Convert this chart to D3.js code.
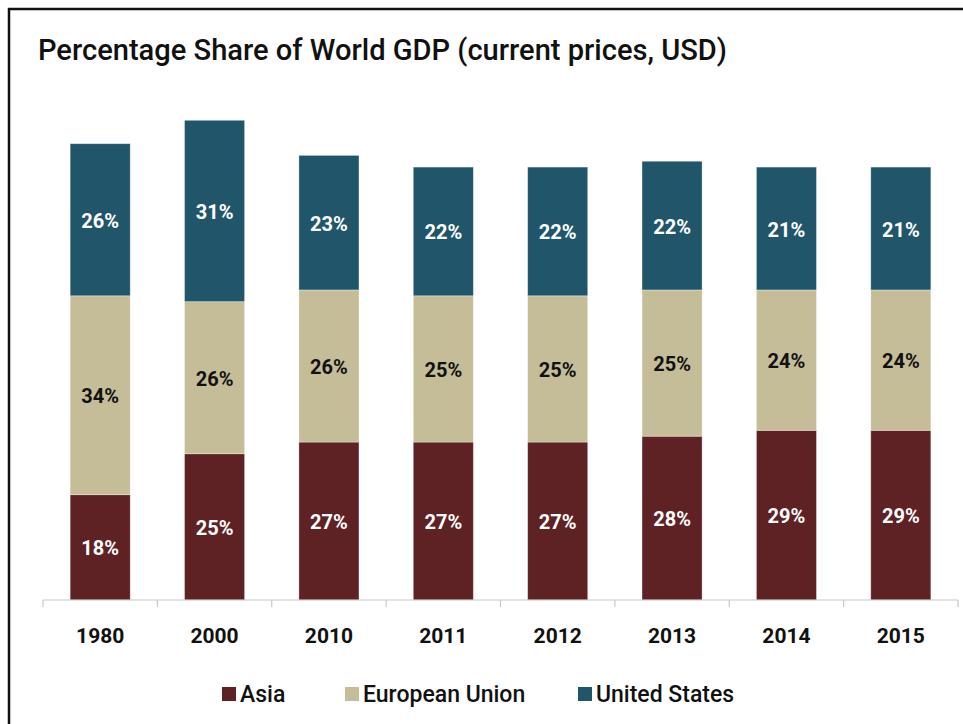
<!DOCTYPE html>
<html>
<head>
<meta charset="utf-8">
<script src="https://cdn.jsdelivr.net/npm/d3@7"></script>
<style>
  body { margin: 0; background: #fff; }
  svg { display: block; }
</style>
</head>
<body>
<svg id="chart" width="963" height="724"></svg>
<script>
// data
var years = ["1980", "2000", "2010", "2011", "2012", "2013", "2014", "2015"];
var asia = [18, 25, 27, 27, 27, 28, 29, 29];
var eu = [34, 26, 26, 25, 25, 25, 24, 24];
var us = [26, 31, 23, 22, 22, 22, 21, 21];
var seriesNames = ["Asia", "European Union", "United States"];
var seriesColors = ["#5e2224", "#c5bd98", "#21566a"];
var labelColors = ["#fff", "#111", "#fff"];

var svg = d3.select("#chart");
var font = "'Roboto', 'Liberation Sans', sans-serif";

// frame
svg.append("rect")
  .attr("x", 9).attr("y", 9)
  .attr("width", 970).attr("height", 740)
  .attr("fill", "none")
  .attr("stroke", "#111")
  .attr("stroke-width", 2.5);

svg.append("text")
  .attr("x", 38).attr("y", 60)
  .attr("font-family", font)
  .attr("font-weight", 500)
  .attr("font-size", 29)
  .attr("fill", "#111")
  .attr("textLength", 689)
  .attr("lengthAdjust", "spacingAndGlyphs")
  .text("Percentage Share of World GDP (current prices, USD)");

var table = years.map(function(y, i) {
  return { year: y, Asia: asia[i], "European Union": eu[i], "United States": us[i] };
});

var stack = d3.stack().keys(seriesNames)(table);

var x = d3.scaleBand()
  .domain(years)
  .range([43, 958])
  .paddingInner(0.475)
  .paddingOuter(0.2375);

var y = d3.scaleLinear()
  .domain([0, 90])
  .range([600, 600 - 90 * 5.85]);

var layers = svg.append("g").selectAll("g")
  .data(stack)
  .enter().append("g")
  .attr("fill", function(d, i) { return seriesColors[i]; });

layers.selectAll("rect")
  .data(function(d) { return d; })
  .enter().append("rect")
  .attr("x", function(d) { return x(d.data.year); })
  .attr("y", function(d) { return y(d[1]); })
  .attr("width", x.bandwidth())
  .attr("height", function(d) { return y(d[0]) - y(d[1]); })
  .attr("stroke", "#fff")
  .attr("stroke-opacity", 0.4)
  .attr("stroke-width", 0.8);

// value labels
stack.forEach(function(s, i) {
  svg.append("g").selectAll("text")
    .data(s)
    .enter().append("text")
    .attr("x", function(d) { return x(d.data.year) + x.bandwidth() / 2; })
    .attr("y", function(d) { return (y(d[0]) + y(d[1])) / 2 + 8; })
    .attr("text-anchor", "middle")
    .attr("font-family", font)
    .attr("font-weight", "bold")
    .attr("font-size", 20)
    .attr("fill", labelColors[i])
    .text(function(d) { return (d[1] - d[0]) + "%"; });
});

// x axis with ticks between categories
var axis = svg.append("g").attr("transform", "translate(0,600)");
axis.append("line")
  .attr("x1", 43).attr("x2", 958)
  .attr("stroke", "#c8c8c8").attr("stroke-width", 1.2);
axis.selectAll(".tk")
  .data(d3.range(years.length + 1))
  .enter().append("line")
  .attr("x1", function(i) { return 43 + i * x.step(); })
  .attr("x2", function(i) { return 43 + i * x.step(); })
  .attr("y1", 0).attr("y2", 7)
  .attr("stroke", "#c8c8c8").attr("stroke-width", 1.2);
axis.selectAll(".yr")
  .data(years)
  .enter().append("text")
  .attr("x", function(d) { return x(d) + x.bandwidth() / 2; })
  .attr("y", 43)
  .attr("text-anchor", "middle")
  .attr("font-family", font)
  .attr("font-weight", "bold")
  .attr("font-size", 21)
  .attr("fill", "#111")
  .text(function(d) { return d; });

// legend
var legendX = [222, 345, 578];
var legend = svg.append("g").selectAll("g")
  .data(seriesNames)
  .enter().append("g")
  .attr("transform", function(d, i) { return "translate(" + legendX[i] + ",687)"; });
legend.append("rect")
  .attr("width", 14).attr("height", 14)
  .attr("fill", function(d, i) { return seriesColors[i]; });
legend.append("text")
  .attr("x", 18).attr("y", 15)
  .attr("font-family", font)
  .attr("font-weight", 500)
  .attr("font-size", 23)
  .attr("fill", "#111")
  .text(function(d) { return d; });
</script>
</body>
</html>
